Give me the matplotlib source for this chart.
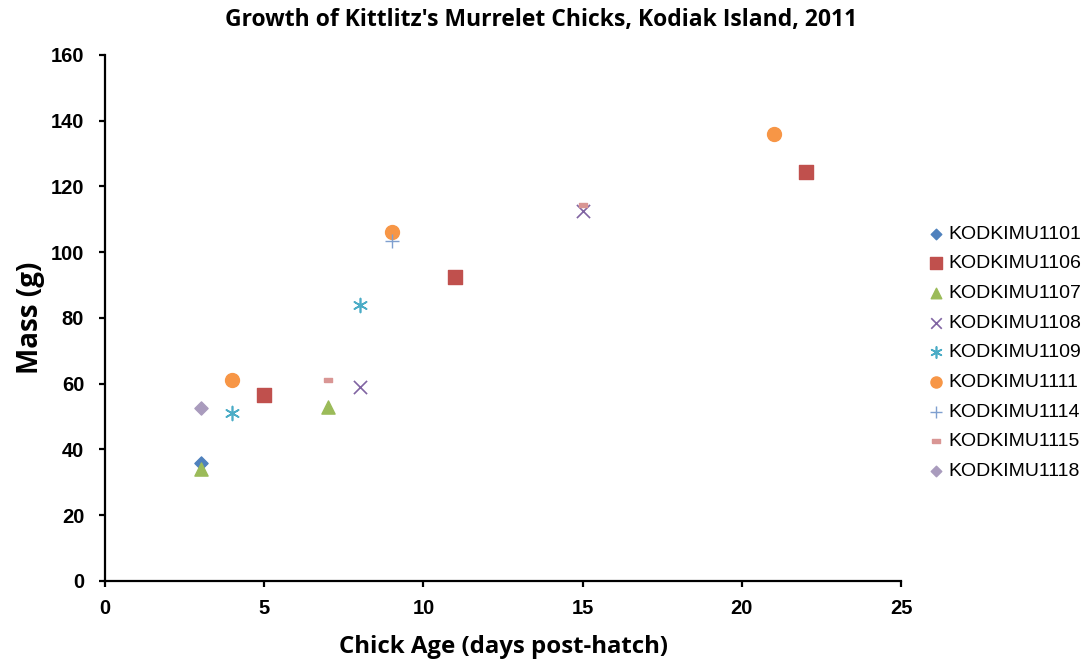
import matplotlib.pyplot as plt
import numpy as np

# chick mass by age, one list per bird
names = ['KODKIMU1101', 'KODKIMU1106', 'KODKIMU1107', 'KODKIMU1108', 'KODKIMU1109',
         'KODKIMU1111', 'KODKIMU1114', 'KODKIMU1115', 'KODKIMU1118']
age_1101 = [3]
mass_1101 = [36]
age_1106 = [5, 11, 22]
mass_1106 = [56.5, 92.5, 124.5]
age_1107 = [3, 7]
mass_1107 = [34, 53]
age_1108 = [8, 15]
mass_1108 = [59, 112.5]
age_1109 = [4, 8]
mass_1109 = [51, 84]
age_1111 = [4, 9, 21]
mass_1111 = [61, 106, 136]
age_1114 = [9]
mass_1114 = [103.5]
age_1115 = [7, 15]
mass_1115 = [61, 114.5]
age_1118 = [3]
mass_1118 = [52.5]

ages = [age_1101, age_1106, age_1107, age_1108, age_1109, age_1111, age_1114, age_1115, age_1118]
masses = [mass_1101, mass_1106, mass_1107, mass_1108, mass_1109, mass_1111, mass_1114, mass_1115, mass_1118]

plt.rcParams['font.family'] = ['Liberation Sans', 'DejaVu Sans']

dash = [(-1, -0.45), (1, -0.45), (1, 0.45), (-1, 0.45), (-1, -0.45)]
styles = [
    dict(marker='D', color='#4F81BD', s=45),
    dict(marker='s', color='#C0504D', s=110),
    dict(marker='^', color='#9BBB59', s=90),
    dict(marker='x', color='#8064A2', s=90, linewidths=1.2),
    dict(marker=(6, 2, 0), color='#4BACC6', s=100, linewidths=1.2),
    dict(marker='o', color='#F79646', s=100),
    dict(marker='+', color='#7F9FCF', s=110, linewidths=1.0),
    dict(marker=dash, color='#D99694', s=40),
    dict(marker='D', color='#A99BBD', s=45),
]

fig = plt.figure(figsize=(10.83, 6.62), dpi=100)
ax = fig.add_axes([0.097, 0.1224, 0.735, 0.7946])

for n, x, y, st in zip(names, ages, masses, styles):
    ax.scatter(x, y, label=n, zorder=3, **st)

ax.set_xlim(0, 25)
ax.set_ylim(0, 160)
ax.set_xticks(np.arange(0, 26, 5))
ax.set_yticks(np.arange(0, 161, 20))
for sp in ['top', 'right']:
    ax.spines[sp].set_visible(False)
for sp in ['left', 'bottom']:
    ax.spines[sp].set_color('black')
    ax.spines[sp].set_linewidth(1.6)
ax.tick_params(direction='out', length=4, width=1.6, labelsize=14.5)
ax.tick_params(axis='x', pad=9)
ax.tick_params(axis='y', pad=11)
plt.setp(ax.get_xticklabels() + ax.get_yticklabels(), fontweight='bold')

ax.set_xlabel('Chick Age (days post-hatch)', fontsize=17.3, fontweight='bold',
              fontfamily='Open Sans', labelpad=12)
ax.set_ylabel('Mass (g)', fontsize=20, fontweight='bold', fontfamily='Open Sans', labelpad=4)
fig.text(0.5, 0.970, "Growth of Kittlitz's Murrelet Chicks, Kodiak Island, 2011",
         ha='center', va='center', fontsize=16.5, fontweight='bold', fontfamily='Open Sans')

leg = ax.legend(loc='center left', bbox_to_anchor=(1.02, 0.434), frameon=False,
                prop={'size': 14}, handletextpad=0.0,
                handlelength=1.2, labelspacing=0.62, scatterpoints=1, markerscale=0.8,
                borderaxespad=0)

fig.savefig('out.png', dpi=100)
